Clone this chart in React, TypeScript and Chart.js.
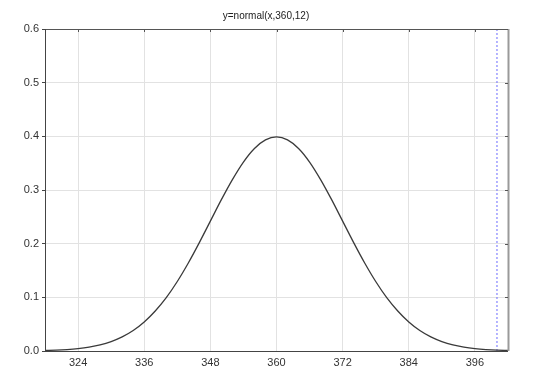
import React, { useEffect, useRef } from "react";
import { Chart, registerables } from "chart.js";

Chart.register(...registerables);

const TITLE = "y=normal(x,360,12)";
const xValues = [
  318, 320, 322, 324, 326, 328, 330, 332, 334, 336, 338, 340, 342, 344, 346, 348, 350, 352, 354, 356, 358, 360,
  362, 364, 366, 368, 370, 372, 374, 376, 378, 380, 382, 384, 386, 388, 390, 392, 394, 396, 398, 400, 402,
];
const yValues = [
  0.001, 0.0015, 0.0026, 0.0044, 0.0072, 0.0113, 0.0175, 0.0262, 0.0381, 0.054, 0.0745, 0.0994, 0.1295, 0.164,
  0.202, 0.242, 0.282, 0.3194, 0.3521, 0.3774, 0.3934, 0.3989, 0.3934, 0.3774, 0.3521, 0.3194, 0.282, 0.242, 0.202,
  0.164, 0.1295, 0.0994, 0.0745, 0.054, 0.0381, 0.0262, 0.0175, 0.0113, 0.0072, 0.0044, 0.0026, 0.0015, 0.001,
];
const markerX = [400, 400];
const markerY = [0, 0.6];
const xTicks = [324, 336, 348, 360, 372, 384, 396];
const yTicks = [0, 0.1, 0.2, 0.3, 0.4, 0.5, 0.6];
const xMin = 318;
const xMax = 402;

const FONT = "'Liberation Sans', Arial, sans-serif";

const framePlugin = {
  id: "frame",
  afterDraw(chart: any) {
    const { ctx, chartArea: a } = chart;
    const xs = chart.scales.x;
    const ys = chart.scales.y;
    ctx.save();
    // right border
    ctx.strokeStyle = "#9a9a9a";
    ctx.lineWidth = 2;
    ctx.beginPath();
    ctx.moveTo(a.right + 0.5, a.top);
    ctx.lineTo(a.right + 0.5, a.bottom);
    ctx.stroke();
    // top border
    ctx.strokeStyle = "#555";
    ctx.lineWidth = 1;
    ctx.beginPath();
    ctx.moveTo(a.left, a.top + 0.5);
    ctx.lineTo(a.right, a.top + 0.5);
    ctx.stroke();
    // inward ticks top
    ctx.strokeStyle = "#555";
    xTicks.forEach((v) => {
      const px = Math.round(xs.getPixelForValue(v)) + 0.5;
      ctx.beginPath();
      ctx.moveTo(px, a.top);
      ctx.lineTo(px, a.top + 3);
      ctx.stroke();
    });
    // inward ticks right
    yTicks.forEach((v) => {
      const py = Math.round(ys.getPixelForValue(v)) + 0.5;
      ctx.beginPath();
      ctx.moveTo(a.right - 3, py);
      ctx.lineTo(a.right, py);
      ctx.stroke();
    });
    // left & bottom axes
    ctx.strokeStyle = "#444";
    ctx.lineWidth = 1;
    ctx.beginPath();
    ctx.moveTo(a.left + 0.5, a.top);
    ctx.lineTo(a.left + 0.5, a.bottom);
    ctx.moveTo(a.left, a.bottom + 0.5);
    ctx.lineTo(a.right, a.bottom + 0.5);
    ctx.stroke();
    // title
    ctx.fillStyle = "#222";
    ctx.font = `10px ${FONT}`;
    ctx.textAlign = "center";
    ctx.textBaseline = "middle";
    ctx.fillText(TITLE, 266, 16);
    ctx.restore();
  },
};

export default function App() {
  const ref = useRef<HTMLCanvasElement | null>(null);
  useEffect(() => {
    document.body.style.margin = "0";
    const canvas = ref.current!;
    const chart = new Chart(canvas, {
      type: "scatter",
      data: {
        datasets: [
          {
            data: xValues.map((x, i) => ({ x, y: yValues[i] })),
            showLine: true,
            borderColor: "#3a3a3a",
            borderWidth: 1.3,
            pointRadius: 0,
            tension: 0.3,
            fill: false,
          },
          {
            data: markerX.map((x, i) => ({ x, y: markerY[i] })),
            showLine: true,
            borderColor: "#6b6bff",
            borderWidth: 1,
            borderDash: [2, 2],
            pointRadius: 0,
            fill: false,
          },
        ],
      },
      options: {
        animation: false,
        responsive: false,
        maintainAspectRatio: false,
        layout: { padding: { top: 29, right: 42, left: 0, bottom: 0 } },
        plugins: { legend: { display: false }, title: { display: false }, tooltip: { enabled: false } },
        scales: {
          x: {
            type: "linear",
            min: xMin,
            max: xMax,
            afterBuildTicks: (s: any) => {
              s.ticks = xTicks.map((v) => ({ value: v }));
            },
            afterFit: (s: any) => {
              s.height = 35;
            },
            border: { display: false },
            grid: { color: "#e2e2e2", drawTicks: false, lineWidth: 1 },
            ticks: {
              color: "#333",
              font: { family: FONT, size: 11 },
              padding: 5,
              maxRotation: 0,
              autoSkip: false,
            },
          },
          y: {
            type: "linear",
            min: 0,
            max: 0.6,
            afterBuildTicks: (s: any) => {
              s.ticks = yTicks.map((v) => ({ value: v }));
            },
            afterFit: (s: any) => {
              s.width = 45;
            },
            border: { display: false },
            grid: { color: "#e2e2e2", drawTicks: true, tickColor: "#444", tickLength: 3, lineWidth: 1 },
            ticks: {
              color: "#333",
              font: { family: FONT, size: 11 },
              padding: 3,
              callback: (v: any) => Number(v).toFixed(1),
            },
          },
        },
      },
      plugins: [framePlugin],
    });
    return () => chart.destroy();
  }, []);
  return (
    <div style={{ width: 550, height: 386, background: "#fff" }}>
      <canvas ref={ref} width={550} height={386} style={{ display: "block" }} />
    </div>
  );
}
